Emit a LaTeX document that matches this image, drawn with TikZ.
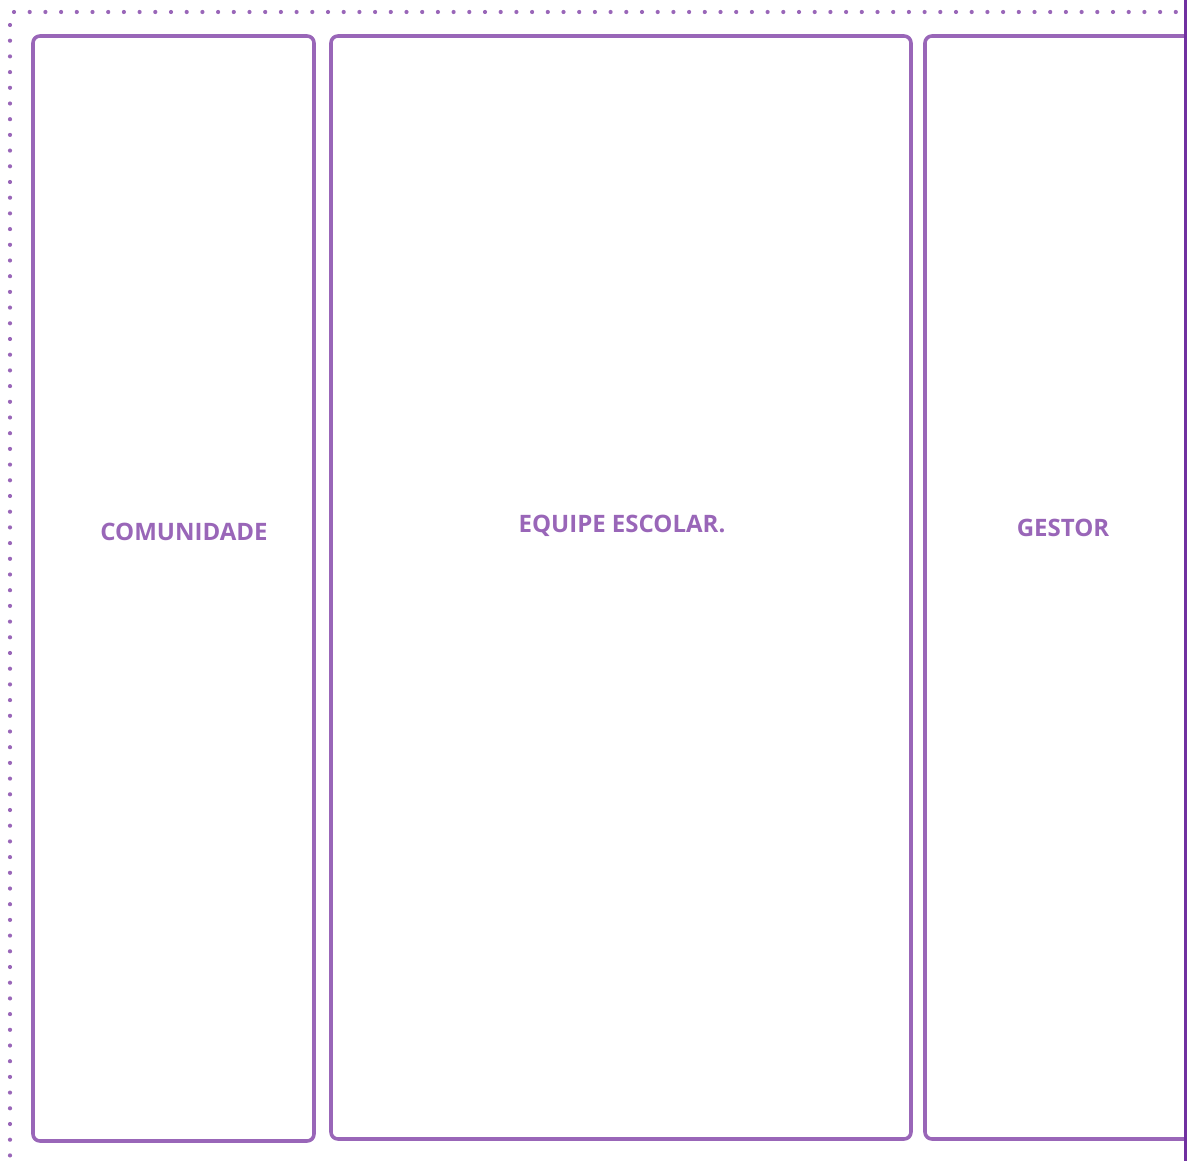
\documentclass[tikz,border=0pt]{standalone}
\usepackage{fontspec}
\setmainfont{Open Sans}
\usepackage{xcolor}
\definecolor{lane}{RGB}{153,102,184}
\definecolor{edge}{RGB}{112,48,160}
\usetikzlibrary{positioning}

\begin{document}
\begin{tikzpicture}[
  x=1pt, y=-1pt,
  lanebox/.style={rectangle, draw=lane, line width=3.6pt, rounded corners=7pt, inner sep=0pt},
  title/.style={text=lane, font=\fontsize{24}{28}\selectfont\bfseries},
  frame/.style={draw=lane, line width=4.2pt, line cap=round, dash pattern=on 0pt off 15.7pt},
]
\useasboundingbox (0,0) rectangle (1187,1161);
\clip (0,0) rectangle (1187,1161);

% dotted outer frame
\coordinate (ftop) at (14,12);
\coordinate (fright) at (1181,12);
\coordinate (fleft) at (10,25);
\coordinate (fbot) at (10,1170);
\draw[frame] (ftop) -- (fright);
\draw[frame] (fleft) -- (fbot);

% lanes
\node[lanebox, minimum width=281pt, minimum height=1105pt] (com) at (173.5,588.5) {};
\node[lanebox, minimum width=580pt, minimum height=1103pt] (eq) at (621,587.5) {};
\node[lanebox, minimum width=290pt, minimum height=1103pt] (ges) at (1070,587.5) {};

\node[title] (tcom) at (184,532) {COMUNIDADE};
\node[title] (teq) at (622,526) {EQUIPE ESCOLAR.};
\node[title] (tges) at (1063,528) {GESTOR};

% right edge
\coordinate (etop) at (1185,0);
\coordinate (ebot) at (1185,1161);
\draw[edge, line width=3pt] (etop) -- (ebot);
\end{tikzpicture}
\end{document}
